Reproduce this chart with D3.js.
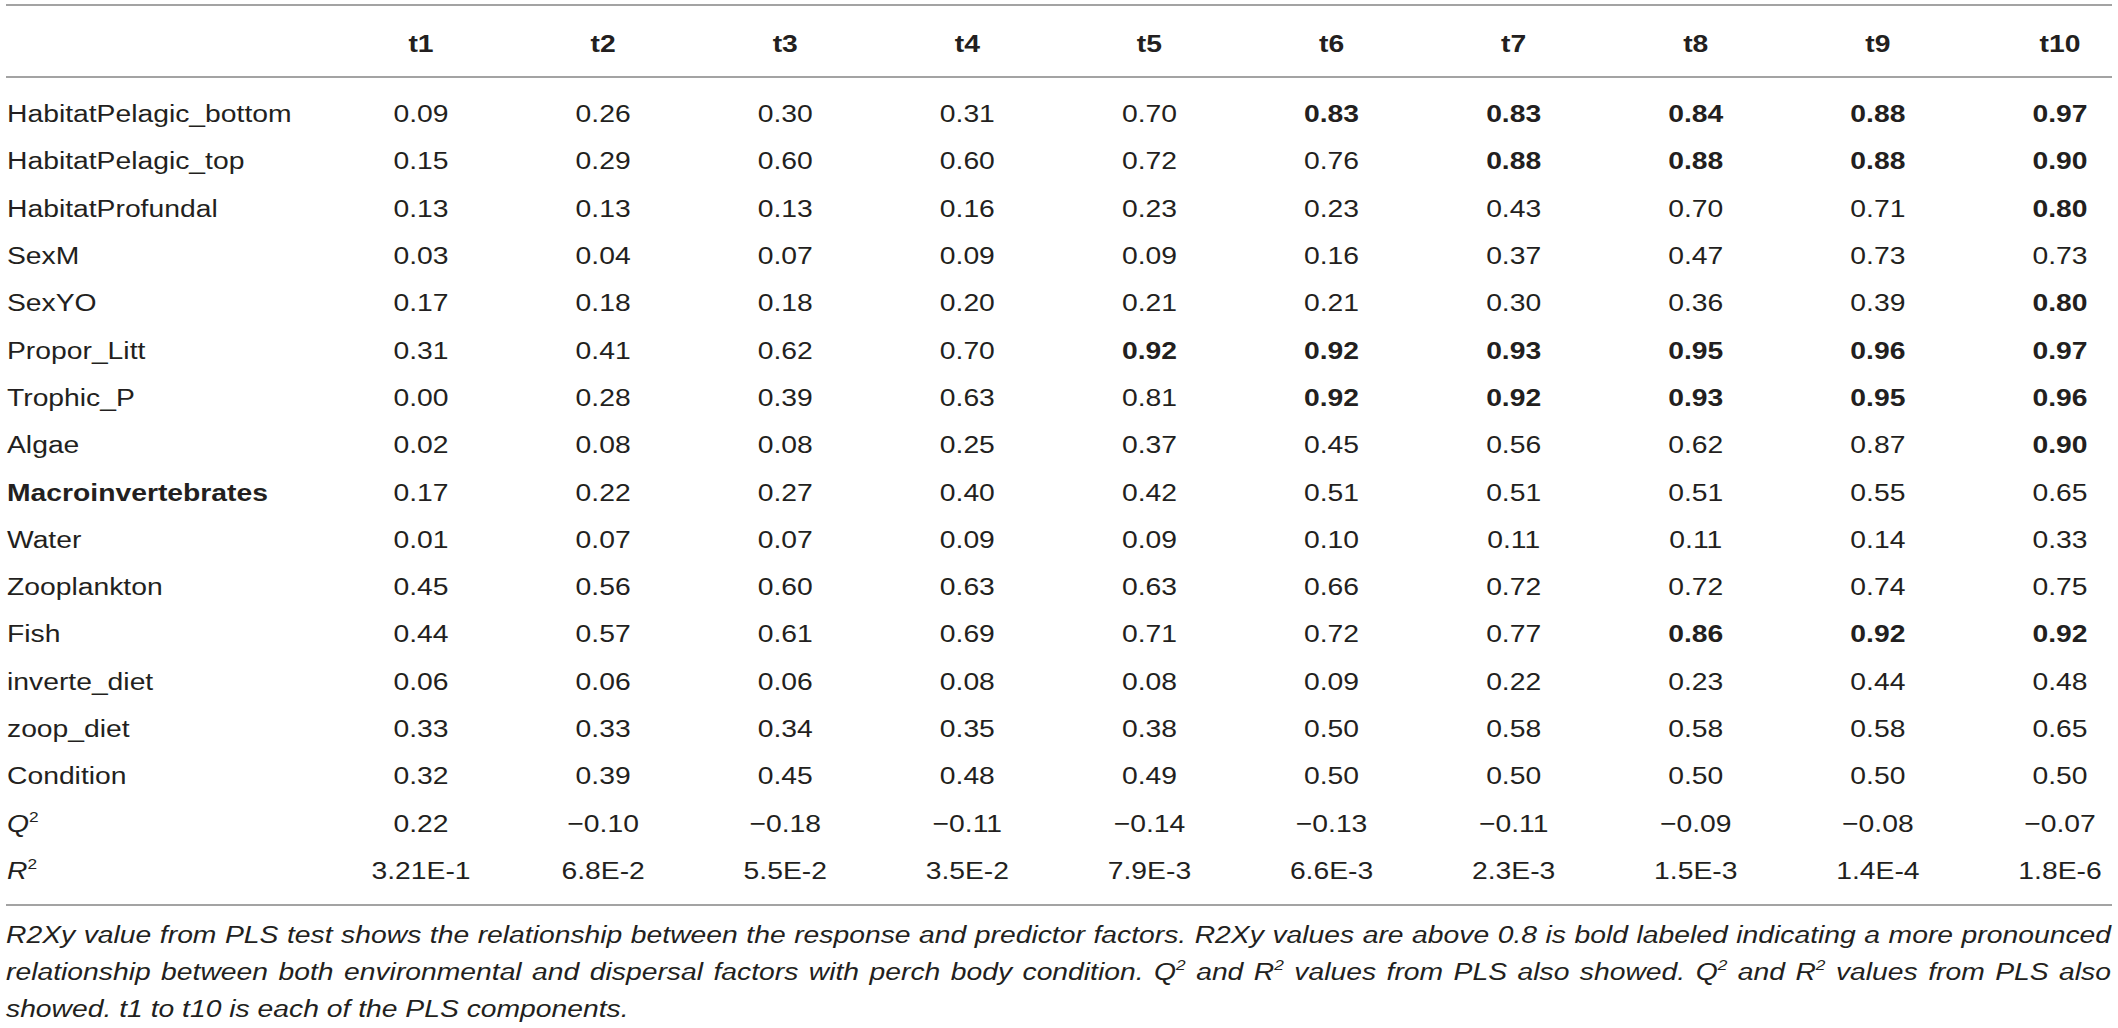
<!DOCTYPE html>
<html>
<head>
<meta charset="utf-8">
<script src="https://cdn.jsdelivr.net/npm/d3@7"></script>
<style>
  body { margin: 0; background: #fff; }
  text { font-family: "Liberation Sans", Arial, sans-serif; fill: #231f20; }
</style>
</head>
<body>
<div class="table"></div>
<script>
const width = 2118;
const height = 1028;

// the source picture is stretched sideways, so every text is widened a bit
const stretch = 1.155;
const fontSize = 24.5;

const cols = ["t1", "t2", "t3", "t4", "t5", "t6", "t7", "t8", "t9", "t10"];

const predictors = [
    "HabitatPelagic_bottom", "HabitatPelagic_top", "HabitatProfundal", "SexM", "SexYO",
    "Propor_Litt", "Trophic_P", "Algae", "Macroinvertebrates", "Water", "Zooplankton",
    "Fish", "inverte_diet", "zoop_diet", "Condition"
];

const r2xy = [
    [0.09, 0.26, 0.30, 0.31, 0.70, 0.83, 0.83, 0.84, 0.88, 0.97],
    [0.15, 0.29, 0.60, 0.60, 0.72, 0.76, 0.88, 0.88, 0.88, 0.90],
    [0.13, 0.13, 0.13, 0.16, 0.23, 0.23, 0.43, 0.70, 0.71, 0.80],
    [0.03, 0.04, 0.07, 0.09, 0.09, 0.16, 0.37, 0.47, 0.73, 0.73],
    [0.17, 0.18, 0.18, 0.20, 0.21, 0.21, 0.30, 0.36, 0.39, 0.80],
    [0.31, 0.41, 0.62, 0.70, 0.92, 0.92, 0.93, 0.95, 0.96, 0.97],
    [0.00, 0.28, 0.39, 0.63, 0.81, 0.92, 0.92, 0.93, 0.95, 0.96],
    [0.02, 0.08, 0.08, 0.25, 0.37, 0.45, 0.56, 0.62, 0.87, 0.90],
    [0.17, 0.22, 0.27, 0.40, 0.42, 0.51, 0.51, 0.51, 0.55, 0.65],
    [0.01, 0.07, 0.07, 0.09, 0.09, 0.10, 0.11, 0.11, 0.14, 0.33],
    [0.45, 0.56, 0.60, 0.63, 0.63, 0.66, 0.72, 0.72, 0.74, 0.75],
    [0.44, 0.57, 0.61, 0.69, 0.71, 0.72, 0.77, 0.86, 0.92, 0.92],
    [0.06, 0.06, 0.06, 0.08, 0.08, 0.09, 0.22, 0.23, 0.44, 0.48],
    [0.33, 0.33, 0.34, 0.35, 0.38, 0.50, 0.58, 0.58, 0.58, 0.65],
    [0.32, 0.39, 0.45, 0.48, 0.49, 0.50, 0.50, 0.50, 0.50, 0.50]
];

// index of first bold column in each predictor row (-1 = none), as printed
const boldFrom = [5, 6, 9, -1, 9, 4, 5, 9, -1, -1, -1, 7, -1, -1, -1];
const boldLabels = ["Macroinvertebrates"];

const q2 = [0.22, -0.10, -0.18, -0.11, -0.14, -0.13, -0.11, -0.09, -0.08, -0.07];
const r2 = ["3.21E-1", "6.8E-2", "5.5E-2", "3.5E-2", "7.9E-3", "6.6E-3", "2.3E-3", "1.5E-3", "1.4E-4", "1.8E-6"];

const footLines = [
    [["R2Xy value from PLS test shows the relationship between the response and predictor factors. R2Xy values are above 0.8 is bold labeled indicating a more pronounced"]],
    [["relationship between both environmental and dispersal factors with perch body condition. Q"], ["2", "sup"], [" and R"], ["2", "sup"],
     [" values from PLS also showed. Q"], ["2", "sup"], [" and R"], ["2", "sup"], [" values from PLS also"]],
    [["showed. t1 to t10 is each of the PLS components."]]
];

const svg = d3.select(".table")
    .append("svg")
        .attr("width", width)
        .attr("height", height);

const rowNames = predictors.concat(["Q2", "R2"]);

const x = d3.scalePoint()
    .domain(cols)
    .range([421, 2060]);

const y = d3.scalePoint()
    .domain(rowNames)
    .range([122, 879]);

const fmt = d3.format(".2f");

function place(px, py) {
    return `translate(${px},${py}) scale(${stretch},1)`;
}

// rules
const rules = [5, 77, 905];
svg.append("g")
    .selectAll("line")
    .data(rules)
    .join("line")
        .attr("x1", 6)
        .attr("x2", 2112)
        .attr("y1", d => d)
        .attr("y2", d => d)
        .attr("stroke", "#a3a3a3")
        .attr("stroke-width", 2);

// header
svg.append("g")
    .selectAll("text")
    .data(cols)
    .join("text")
        .attr("transform", d => place(x(d), 52))
        .attr("text-anchor", "middle")
        .attr("font-size", fontSize)
        .attr("font-weight", "bold")
        .text(d => d);

// row labels
const labels = svg.append("g")
    .selectAll("text")
    .data(rowNames)
    .join("text")
        .attr("transform", d => place(7, y(d)))
        .attr("font-size", fontSize)
        .attr("font-weight", d => boldLabels.includes(d) ? "bold" : null);

labels.filter(d => d !== "Q2" && d !== "R2").text(d => d);
labels.filter(d => d === "Q2" || d === "R2").each(function(d) {
    const t = d3.select(this);
    t.append("tspan").attr("font-style", "italic").text(d[0]);
    t.append("tspan").attr("font-size", 15).attr("dy", -10).text("2");
});

// predictor cells
const cells = [];
r2xy.forEach((row, i) => row.forEach((v, j) => {
    cells.push({row: predictors[i], col: cols[j], text: fmt(v), bold: boldFrom[i] >= 0 && j >= boldFrom[i]});
}));
q2.forEach((v, j) => cells.push({row: "Q2", col: cols[j], text: fmt(v), bold: false}));
r2.forEach((v, j) => cells.push({row: "R2", col: cols[j], text: v, bold: false}));

svg.append("g")
    .selectAll("text")
    .data(cells)
    .join("text")
        .attr("transform", d => place(x(d.col), y(d.row)))
        .attr("text-anchor", "middle")
        .attr("font-size", fontSize)
        .attr("font-weight", d => d.bold ? "bold" : null)
        .text(d => d.text);

// footnote, justified like the printed caption
const footLeft = 6;
const footRight = 2111;
const footY = [943, 980, 1017];

footLines.forEach((parts, i) => {
    const t = svg.append("text")
        .attr("transform", place(footLeft, footY[i]))
        .attr("font-size", fontSize)
        .attr("font-style", "italic");
    parts.forEach(p => {
        const s = t.append("tspan").text(p[0]);
        if (p[1] === "sup") s.attr("font-size", 15).attr("dy", -10);
        else if (t.node().childNodes.length > 1) s.attr("dy", 0);
    });
    // drop the superscript shift back after each "2"
    t.selectAll("tspan").each(function(d, k, nodes) {
        if (k > 0 && nodes[k - 1].getAttribute("font-size") === "15") d3.select(this).attr("dy", 10);
    });
    if (i < footLines.length - 1) {
        const full = parts.map(p => p[0]).join("");
        const gaps = (full.match(/ /g) || []).length;
        const natural = t.node().getComputedTextLength();
        const target = (footRight - footLeft) / stretch;
        t.attr("word-spacing", (target - natural) / gaps);
    }
});
</script>
</body>
</html>
